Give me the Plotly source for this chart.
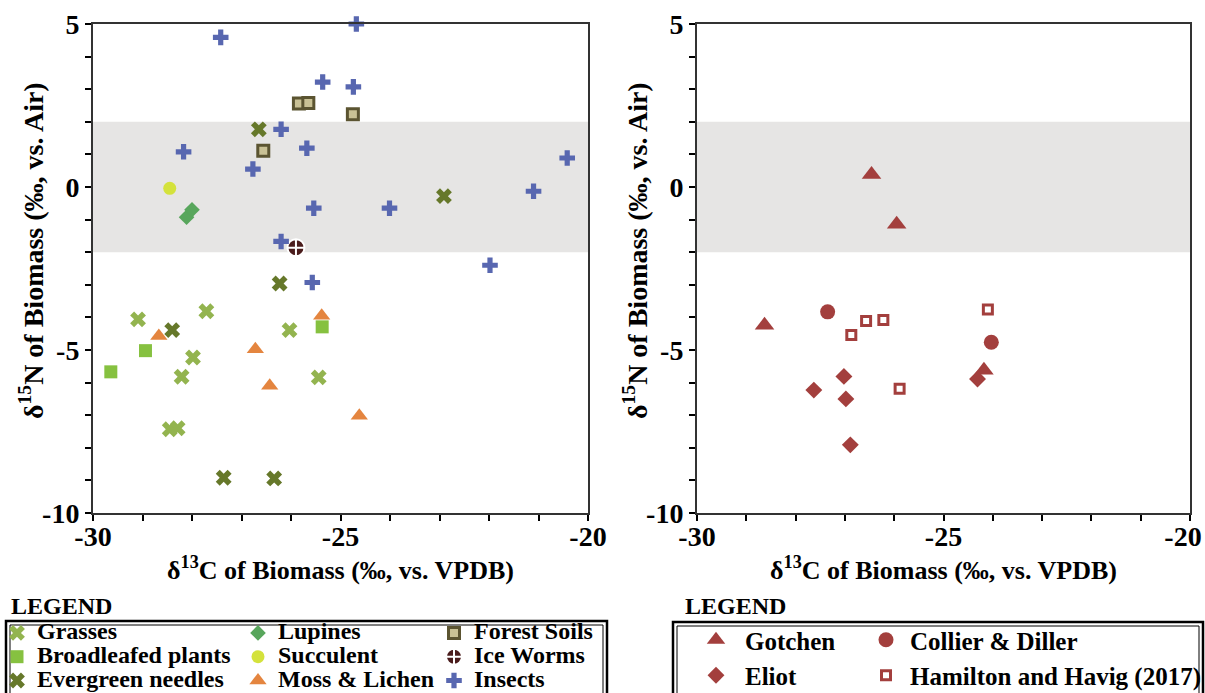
import plotly.graph_objects as go

# ---------------- data ----------------
# Left panel
grasses_x = [-29.09, -27.71, -26.03, -27.98, -28.21, -25.44, -28.45, -28.29]
grasses_y = [-4.06, -3.81, -4.39, -5.23, -5.82, -5.84, -7.43, -7.40]
broadleaf_x = [-29.64, -28.94, -25.37]
broadleaf_y = [-5.67, -5.02, -4.29]
evergreen_x = [-26.65, -22.91, -26.23, -28.40, -27.36, -26.34]
evergreen_y = [1.77, -0.28, -2.96, -4.39, -8.92, -8.94]
lupines_x = [-28.11, -28.00]
lupines_y = [-0.93, -0.70]
succulent_x = [-28.45]
succulent_y = [-0.04]
moss_x = [-28.67, -25.38, -26.72, -26.43, -24.62]
moss_y = [-4.57, -3.95, -4.98, -6.10, -7.02]
forest_x = [-25.84, -25.65, -24.75, -26.56]
forest_y = [2.56, 2.58, 2.23, 1.11]
iceworm_x = [-25.90]
iceworm_y = [-1.86]
insects_x = [-27.42, -24.68, -25.36, -24.74, -26.20, -25.68, -28.17, -26.77,
             -20.42, -21.10, -25.54, -24.01, -26.20, -21.98, -25.57]
insects_y = [4.59, 5.00, 3.22, 3.07, 1.77, 1.19, 1.08, 0.55,
             0.89, -0.13, -0.65, -0.65, -1.67, -2.40, -2.93]

# Right panel
gotchen_x = [-26.46, -25.95, -28.63, -24.18]
gotchen_y = [0.38, -1.14, -4.24, -5.62]
collier_x = [-27.35, -24.03]
collier_y = [-3.83, -4.76]
eliot_x = [-27.63, -27.02, -26.98, -26.89, -24.31]
eliot_y = [-6.23, -5.81, -6.50, -7.91, -5.89]
hamilton_x = [-26.87, -26.57, -26.22, -24.10, -25.89]
hamilton_y = [-4.54, -4.11, -4.08, -3.76, -6.19]

# axes / band
x_range = [-30, -20]
y_range = [-10, 5]
band = [-2, 2]
x_tickvals = [-30, -25, -20]
x_ticktext = ["-30", "-25", "-20"]
x2_ticktext = ["-30", "-25", "-20&nbsp;&nbsp;"]
y_tickvals = [5, 0, -5, -10]
y_ticktext = ["5", "0", "-5", "-10"]

FONT = "Liberation Serif, Times New Roman, serif"
W, H = 1205, 693
ML, MR, MT, MB = 93, 15, 24, 180
PW, PH = W - ML - MR, H - MT - MB


def px(xp):
    return (xp - ML) / PW


def py(yp):
    return (H - MB - yp) / PH


def lname(t, size):
    return "<span style='font-size:%dpx'><b>%s</b></span>" % (size, t)


def bold(labels):
    return ["<b>%s</b>" % t for t in labels]


MAROON = "#a33f3d"
fig = go.Figure()


def add(xs, ys, name, legend, ax, marker, size=24):
    fig.add_trace(go.Scatter(
        x=xs, y=ys, mode="markers", name=lname(name, size), legend=legend,
        xaxis=ax[0], yaxis=ax[1], marker=marker, showlegend=True, cliponaxis=False))


L = ("x", "y")
R = ("x2", "y2")
add(grasses_x, grasses_y, "Grasses", "legend", L, dict(symbol="x", size=14, color="#93b44f"))
add(broadleaf_x, broadleaf_y, "Broadleafed plants", "legend", L, dict(symbol="square", size=13, color="#86c140"))
add(evergreen_x, evergreen_y, "Evergreen needles", "legend", L, dict(symbol="x", size=14, color="#66782a"))
add(lupines_x, lupines_y, "Lupines", "legend2", L, dict(symbol="diamond", size=12, color="#58a65c"))
add(succulent_x, succulent_y, "Succulent", "legend2", L, dict(symbol="circle", size=13, color="#d4e23c"))
add(moss_x, moss_y, "Moss &amp; Lichen", "legend2", L, dict(symbol="triangle-up", size=15, color="#e4853f"))
add(forest_x, forest_y, "Forest Soils", "legend3", L,
    dict(symbol="square", size=11, color="#c9c195", line=dict(color="#5b5431", width=3)))
add(iceworm_x, iceworm_y, "Ice Worms", "legend3", L,
    dict(symbol="circle-cross", size=17, color="#4a1c1c", line=dict(color="white", width=2)))
add(insects_x, insects_y, "Insects", "legend3", L, dict(symbol="cross", size=13, color="#5867b0"))

add(gotchen_x, gotchen_y, "Gotchen", "legend4", R, dict(symbol="triangle-up", size=17, color=MAROON), 25)
add(eliot_x, eliot_y, "Eliot", "legend4", R, dict(symbol="diamond", size=13, color=MAROON), 25)
add(collier_x, collier_y, "Collier &amp; Diller", "legend5", R, dict(symbol="circle", size=15, color=MAROON), 25)
add(hamilton_x, hamilton_y, "Hamilton and Havig (2017)", "legend5", R,
    dict(symbol="square", size=9, color="white", line=dict(color=MAROON, width=3)), 25)

tickfont = dict(family=FONT, size=28, color="black", weight="bold")
titlefont = dict(family=FONT, size=26, color="black", weight="bold")
xtitle = "<b>δ<sup>13</sup>C of Biomass (‰, vs. VPDB)</b>"
ytitle = "<b>δ<sup>15</sup>N of Biomass (‰, vs. Air)</b>"

axis_common = dict(showgrid=False, zeroline=False, showline=True, mirror=True,
                   linecolor="#333", linewidth=2, ticks="outside", ticklen=6,
                   tickwidth=1.5, tickcolor="black", tickfont=tickfont,
                   ticklabeloverflow="allow",
                   minor=dict(ticks="outside", dtick=1, ticklen=6, tickwidth=1.5,
                              tickcolor="black", showgrid=False))

xa = dict(axis_common, range=x_range, tickmode="array", tickvals=x_tickvals,
          ticklabelstandoff=-9,
          title=dict(text=xtitle, font=titlefont, standoff=4))
ya = dict(axis_common, range=y_range, tickmode="array", tickvals=y_tickvals,
          ticktext=bold(y_ticktext))

d1 = [0, px(588)]
d2 = [px(697), 1]

legend_common = dict(xref="container", yref="container", xanchor="left", yanchor="top",
                     bgcolor="rgba(0,0,0,0)", borderwidth=0, tracegroupgap=0,
                     orientation="v")
lf_left = dict(family=FONT, size=16, color="black", weight="bold")
lf_right = dict(family=FONT, size=25, color="black", weight="bold")


def leg(xp, yp, font, itemwidth=30, indent=0):
    return dict(legend_common, x=xp / W, y=1 - yp / H, font=font,
                itemwidth=itemwidth, indentation=indent)


shapes = []
for xr, yr in (("x", "y"), ("x2", "y2")):
    shapes.append(dict(type="rect", xref=xr + " domain", yref=yr, x0=0, x1=1,
                       y0=band[0], y1=band[1], fillcolor="#e6e5e4",
                       line=dict(width=0), layer="below"))


def box(x0, x1, y0, y1):
    shapes.append(dict(type="rect", xref="paper", yref="paper",
                       x0=px(x0), x1=px(x1), y0=py(y1), y1=py(y0),
                       line=dict(color="black", width=2.5), fillcolor="rgba(0,0,0,0)"))
    shapes.append(dict(type="rect", xref="paper", yref="paper",
                       x0=px(x0 + 4), x1=px(x1 - 4), y0=py(y1), y1=py(y0 + 4),
                       line=dict(color="black", width=1), fillcolor="rgba(0,0,0,0)"))


box(6, 607, 621, 730)
box(673, 1203, 622, 730)

annotations = [
    dict(text=ytitle, textangle=-90, xref="paper", yref="paper", x=px(31), y=py(251),
         xanchor="center", yanchor="middle", showarrow=False,
         font=dict(family=FONT, size=28, color="black", weight="bold")),
    dict(text=ytitle, textangle=-90, xref="paper", yref="paper", x=px(635), y=py(251),
         xanchor="center", yanchor="middle", showarrow=False,
         font=dict(family=FONT, size=28, color="black", weight="bold")),
    dict(text="<b>LEGEND</b>", xref="paper", yref="paper", x=px(9), y=py(606),
         xanchor="left", yanchor="middle", showarrow=False,
         font=dict(family=FONT, size=24, color="black")),
    dict(text="<b>LEGEND</b>", xref="paper", yref="paper", x=px(683), y=py(606),
         xanchor="left", yanchor="middle", showarrow=False,
         font=dict(family=FONT, size=24, color="black")),
]

fig.update_layout(
    width=W, height=H, autosize=False,
    margin=dict(l=ML, r=MR, t=MT, b=MB, autoexpand=False),
    paper_bgcolor="white", plot_bgcolor="white",
    xaxis=dict(xa, domain=d1, anchor="y", ticktext=bold(x_ticktext)),
    yaxis=dict(ya, domain=[0, 1], anchor="x"),
    xaxis2=dict(xa, domain=d2, anchor="y2", ticktext=bold(x2_ticktext)),
    yaxis2=dict(ya, domain=[0, 1], anchor="x2"),
    legend=leg(1, 616, lf_left, 30, -4),
    legend2=leg(246, 616, lf_left, 30, -8),
    legend3=leg(437, 616, lf_left, 30, -3),
    legend4=leg(687, 617, lf_right, 48, 0),
    legend5=leg(862, 617, lf_right, 38, 0),
    shapes=shapes,
    annotations=annotations,
    showlegend=True,
)

fig.write_html("out.html")
